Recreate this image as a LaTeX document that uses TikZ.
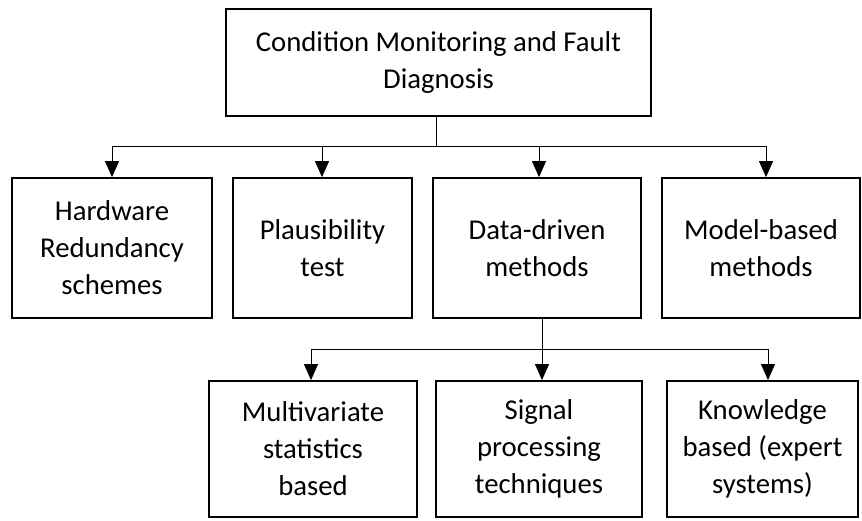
\documentclass[tikz,border=0pt]{standalone}
\usepackage{fontspec}
\setmainfont{Carlito}
\usetikzlibrary{arrows.meta}
\begin{document}
\begin{tikzpicture}[x=1pt,y=-1pt,
  box/.style={draw=black, line width=1.8pt, inner sep=0pt, align=center,
    font=\fontsize{28.7}{37}\selectfont, minimum height=140pt},
  conn/.style={line width=1pt, draw=black},
  arr/.style={conn, -{Triangle[length=16pt,width=14pt]}}]
\useasboundingbox (0,0) rectangle (862,520);
\node[box, minimum width=425pt, minimum height=107pt] (top) at (438.5,62.5) {Condition Monitoring and Fault\\Diagnosis};
\node[box, minimum width=200pt] (b1) at (112,248) {Hardware\\Redundancy\\schemes};
\node[box, minimum width=179pt] (b2) at (322.5,248) {Plausibility\\test};
\node[box, minimum width=208pt] (b3) at (537,248) {Data-driven\\methods};
\node[box, minimum width=198pt] (b4) at (761,248) {Model-based\\methods};
\node[box, minimum width=208pt, minimum height=136pt] (b5) at (313,449) {Multivariate\\statistics\\based};
\node[box, minimum width=206pt, minimum height=136pt] (b6) at (539,449) {Signal\\processing\\techniques};
\node[box, minimum width=191pt, minimum height=136pt] (b7) at (762.5,449) {Knowledge\\based (expert\\systems)};
% first level
\coordinate (j) at (436,146);
\coordinate (l1) at (112,146);
\coordinate (l2) at (322,146);
\coordinate (l3) at (539,146);
\coordinate (l4) at (766,146);
\draw[conn] (top.south -| j) -- (j);
\draw[conn] (l1) -- (l4);
\draw[arr] (l1) -- (b1.north -| l1);
\draw[arr] (l2) -- (b2.north -| l2);
\draw[arr] (l3) -- (b3.north -| l3);
\draw[arr] (l4) -- (b4.north -| l4);
% second level
\coordinate (k) at (542,349);
\coordinate (m1) at (311,349);
\coordinate (m3) at (768,349);
\draw[conn] (b3.south -| k) -- (k);
\draw[conn] (m1) -- (m3);
\draw[arr] (m1) -- (b5.north -| m1);
\draw[arr] (k) -- (b6.north -| k);
\draw[arr] (m3) -- (b7.north -| m3);
\end{tikzpicture}
\end{document}
